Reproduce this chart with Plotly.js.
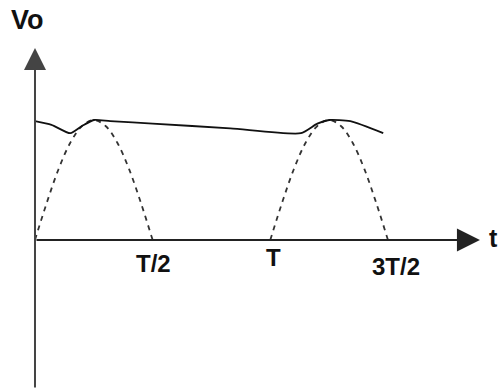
<!DOCTYPE html>
<html>
<head>
<meta charset="utf-8">
<script src="https://cdn.plot.ly/plotly-3.0.1.min.js"></script>
<style>html,body{margin:0;padding:0;background:#fff;}#chart{width:502px;height:389px;}</style>
</head>
<body>
<div id="chart"></div>
<script>
// Time in units of T, voltage normalised to the peak value
const arc1T = [0, 0.05, 0.1, 0.15, 0.2, 0.25, 0.3, 0.35, 0.4, 0.45, 0.5];
const arc1V = [0, 0.31, 0.59, 0.81, 0.95, 1.0, 0.95, 0.81, 0.59, 0.31, 0];
const arc2T = [1.0, 1.05, 1.1, 1.15, 1.2, 1.25, 1.3, 1.35, 1.4, 1.45, 1.5];
const arc2V = [0, 0.31, 0.59, 0.81, 0.95, 1.0, 0.95, 0.81, 0.59, 0.31, 0];
const envT = [0, 0.07, 0.15, 0.2, 0.25, 0.32, 0.5, 0.83, 1.13, 1.2, 1.25, 1.34, 1.48];
const envV = [0.99, 0.96, 0.89, 0.95, 1.0, 0.99, 0.97, 0.93, 0.89, 0.97, 1.0, 0.99, 0.89];
const tickVals = [0.5, 1.0, 1.5];
const tickText = ['T/2', 'T', '3T/2'];
const yLabel = 'Vo';
const xLabel = 't';

const xr = [-0.1487, 1.9847];
const yr = [-1.2417, 2.0];

const traces = [
  {x: arc1T, y: arc1V, mode: 'lines', line: {color: '#333', width: 1.8, dash: '5px,5px', shape: 'spline'}, hoverinfo: 'skip'},
  {x: arc2T, y: arc2V, mode: 'lines', line: {color: '#333', width: 1.8, dash: '5px,5px', shape: 'spline'}, hoverinfo: 'skip'},
  {x: envT, y: envV, mode: 'lines', line: {color: '#111', width: 1.8, shape: 'spline', smoothing: 0.6}, hoverinfo: 'skip'}
];

const font = {family: 'Liberation Sans, Arial, sans-serif', color: '#111', weight: 'bold'};
const labelShift = [{dx: 1, dy: -23}, {dx: 3, dy: -17}, {dx: 8, dy: -26}];
const annotations = tickVals.map((v, i) => ({
  x: v, y: 0, xref: 'x', yref: 'y', text: tickText[i], showarrow: false,
  xshift: labelShift[i].dx, yshift: labelShift[i].dy,
  font: Object.assign({}, font, {size: 24})
}));
// axes with arrows
annotations.push({x: 1.891, y: 0, ax: 0, ay: 0, xref: 'x', yref: 'y', axref: 'x', ayref: 'y',
  showarrow: true, arrowhead: 2, arrowsize: 2.3, arrowwidth: 2, arrowcolor: '#222', text: ''});
annotations.push({x: 0, y: 1.6, ax: 0, ay: yr[0], xref: 'x', yref: 'y', axref: 'x', ayref: 'y',
  showarrow: true, arrowhead: 2, arrowsize: 2.2, arrowwidth: 2, arrowcolor: '#444', text: ''});
annotations.push({x: 1.9, y: 0, xref: 'x', yref: 'y', text: xLabel, showarrow: false, xshift: 11, yshift: 2,
  font: Object.assign({}, font, {size: 25})});
annotations.push({x: 0, y: 1.83, xref: 'x', yref: 'y', text: yLabel, showarrow: false, xshift: -7,
  font: Object.assign({}, font, {size: 27})});

const ax = {visible: false, showgrid: false, zeroline: false, fixedrange: true};
const layout = {
  width: 502, height: 389,
  margin: {l: 0, r: 0, t: 0, b: 0},
  paper_bgcolor: '#fff', plot_bgcolor: '#fff',
  showlegend: false,
  xaxis: Object.assign({}, ax, {range: xr}),
  yaxis: Object.assign({}, ax, {range: yr}),
  annotations: annotations
};
Plotly.newPlot('chart', traces, layout, {staticPlot: true, displayModeBar: false});
</script>
</body>
</html>
